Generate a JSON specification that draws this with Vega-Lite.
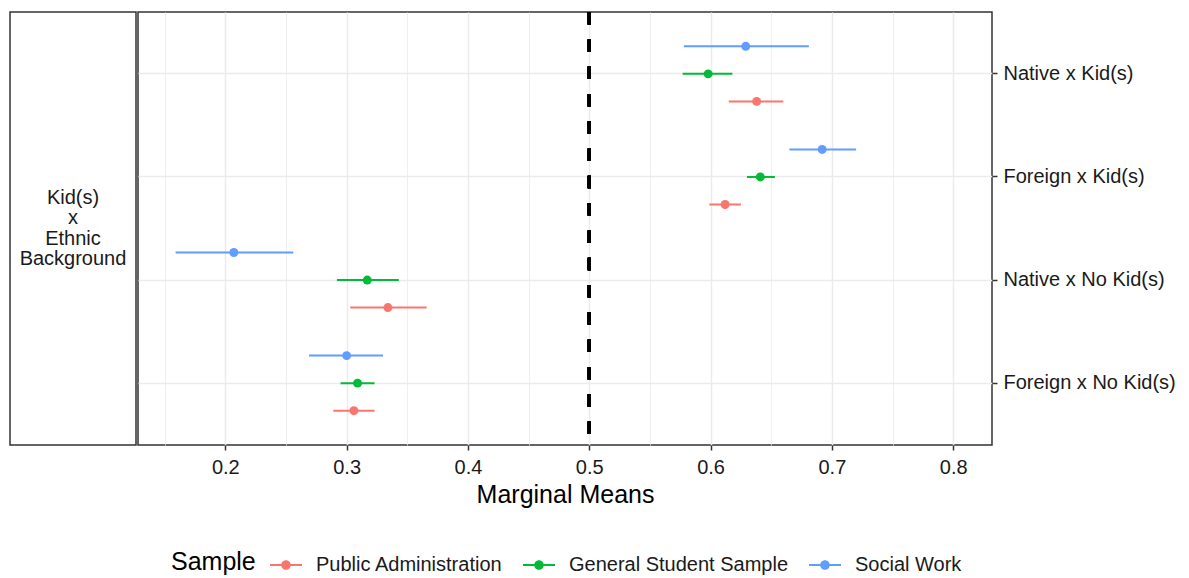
{
  "$schema": "https://vega.github.io/schema/vega-lite/v6.json",
  "background": "white",
  "padding": {"left": 9, "top": 9, "right": 5, "bottom": 5},
  "config": {
    "font": "Liberation Sans",
    "view": {"stroke": "#333333", "strokeWidth": 1.5},
    "concat": {"spacing": 0},
    "axis": {
      "gridColor": "#ebebeb",
      "gridWidth": 1.5,
      "domain": false,
      "tickColor": "#333333",
      "tickWidth": 1.5,
      "tickSize": 5,
      "labelColor": "#1a1a1a",
      "labelFontSize": 20,
      "titleFontSize": 25,
      "titleFontWeight": "normal",
      "titleColor": "#000000"
    }
  },
  "hconcat": [
    {
      "width": 126,
      "height": 433,
      "data": {"values": [{"label": "Kid(s)\nx\nEthnic\nBackground", "px": 0.5, "py": 0.5}]},
      "mark": {"type": "text", "lineBreak": "\n", "fontSize": 20, "color": "#1a1a1a", "lineHeight": 20.5, "align": "center", "baseline": "middle", "dy": -31},
      "encoding": {
        "x": {"field": "px", "type": "quantitative", "scale": {"domain": [0, 1]}, "axis": null},
        "y": {"field": "py", "type": "quantitative", "scale": {"domain": [0, 1]}, "axis": null},
        "text": {"field": "label", "type": "nominal"}
      }
    },
    {
      "width": 854,
      "height": 433,
      "data": {"values": [
        {"cat": "Native x Kid(s)", "sample": "Social Work", "mean": 0.629, "lo": 0.578, "hi": 0.681},
        {"cat": "Native x Kid(s)", "sample": "General Student Sample", "mean": 0.598, "lo": 0.577, "hi": 0.618},
        {"cat": "Native x Kid(s)", "sample": "Public Administration", "mean": 0.638, "lo": 0.615, "hi": 0.660},
        {"cat": "Foreign x Kid(s)", "sample": "Social Work", "mean": 0.692, "lo": 0.665, "hi": 0.720},
        {"cat": "Foreign x Kid(s)", "sample": "General Student Sample", "mean": 0.641, "lo": 0.630, "hi": 0.653},
        {"cat": "Foreign x Kid(s)", "sample": "Public Administration", "mean": 0.612, "lo": 0.599, "hi": 0.625},
        {"cat": "Native x No Kid(s)", "sample": "Social Work", "mean": 0.207, "lo": 0.159, "hi": 0.256},
        {"cat": "Native x No Kid(s)", "sample": "General Student Sample", "mean": 0.317, "lo": 0.292, "hi": 0.343},
        {"cat": "Native x No Kid(s)", "sample": "Public Administration", "mean": 0.334, "lo": 0.303, "hi": 0.366},
        {"cat": "Foreign x No Kid(s)", "sample": "Social Work", "mean": 0.300, "lo": 0.269, "hi": 0.330},
        {"cat": "Foreign x No Kid(s)", "sample": "General Student Sample", "mean": 0.309, "lo": 0.295, "hi": 0.323},
        {"cat": "Foreign x No Kid(s)", "sample": "Public Administration", "mean": 0.306, "lo": 0.289, "hi": 0.323}
      ]},
      "resolve": {"axis": {"x": "independent"}},
      "layer": [
        {
          "mark": {"type": "rule", "strokeWidth": 0},
          "encoding": {
            "x": {"datum": 0.5, "type": "quantitative", "scale": {"domain": [0.128, 0.832], "nice": false, "zero": false},
              "axis": {"orient": "top", "values": [0.15, 0.25, 0.35, 0.45, 0.55, 0.65, 0.75], "grid": true, "gridWidth": 0.8, "labels": false, "ticks": false, "domain": false, "title": null}}
          }
        },
        {
          "mark": {"type": "rule", "strokeWidth": 2},
          "encoding": {
            "y": {"field": "cat", "type": "nominal", "sort": ["Native x Kid(s)", "Foreign x Kid(s)", "Native x No Kid(s)", "Foreign x No Kid(s)"],
              "scale": {"type": "band", "paddingInner": 0, "paddingOuter": 0.1},
              "axis": {"orient": "right", "title": null, "grid": true, "bandPosition": 0.5, "labelPadding": 6}},
            "yOffset": {"field": "sample", "type": "nominal", "sort": ["Social Work", "General Student Sample", "Public Administration"],
              "scale": {"paddingInner": 0, "paddingOuter": 0.373}},
            "x": {"field": "lo", "type": "quantitative", "scale": {"domain": [0.128, 0.832], "nice": false, "zero": false},
              "axis": {"values": [0.2, 0.3, 0.4, 0.5, 0.6, 0.7, 0.8], "title": "Marginal Means", "grid": true, "labelPadding": 7.5, "titlePadding": 5}},
            "x2": {"field": "hi"},
            "color": {"field": "sample", "type": "nominal",
              "scale": {"domain": ["Public Administration", "General Student Sample", "Social Work"], "range": ["#F8766D", "#00BA38", "#619CFF"]},
              "legend": {"title": "Sample", "orient": "none", "legendX": 161, "legendY": 537, "direction": "horizontal", "titleOrient": "left",
                "titleFontSize": 25, "titleFontWeight": "normal", "titleColor": "#000000", "titlePadding": 14, "titleBaseline": "middle",
                "labelFontSize": 20, "labelColor": "#1a1a1a", "labelOffset": 14, "labelLimit": 500, "columnPadding": 20,
                "symbolType": "M-1,-0.0625L1,-0.0625L1,0.0625L-1,0.0625Z M0.3,0A0.3,0.3 0 1,1 -0.3,0A0.3,0.3 0 1,1 0.3,0Z",
                "symbolSize": 1024, "symbolStrokeWidth": 0, "symbolOpacity": 1}}
          }
        },
        {
          "mark": {"type": "point", "filled": true, "size": 80, "opacity": 1},
          "encoding": {
            "y": {"field": "cat", "type": "nominal", "sort": ["Native x Kid(s)", "Foreign x Kid(s)", "Native x No Kid(s)", "Foreign x No Kid(s)"]},
            "yOffset": {"field": "sample", "type": "nominal", "sort": ["Social Work", "General Student Sample", "Public Administration"]},
            "x": {"field": "mean", "type": "quantitative", "axis": null},
            "color": {"field": "sample", "type": "nominal"}
          }
        },
        {
          "mark": {"type": "rule", "color": "black", "strokeWidth": 3, "strokeDash": [12.5, 14.8]},
          "encoding": {"x": {"datum": 0.5, "type": "quantitative", "axis": null}}
        }
      ]
    }
  ]
}
